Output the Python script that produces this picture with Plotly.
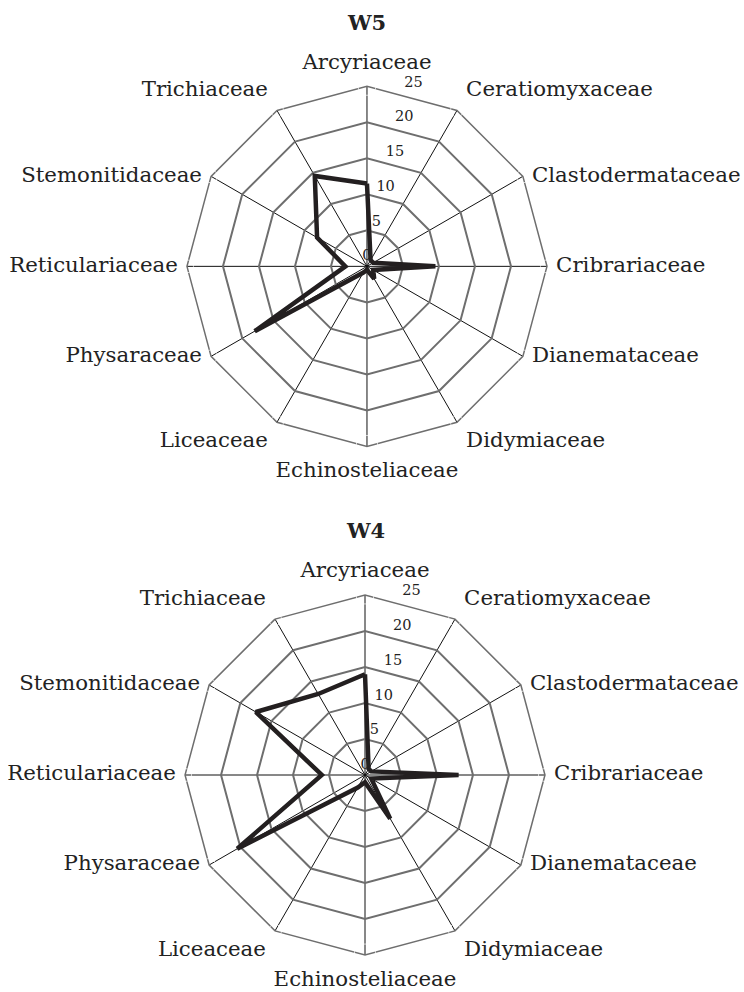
import plotly.graph_objects as go

categories = ["Arcyriaceae", "Ceratiomyxaceae", "Clastodermataceae", "Cribrariaceae",
              "Dianemataceae", "Didymiaceae", "Echinosteliaceae", "Liceaceae",
              "Physaraceae", "Reticulariaceae", "Stemonitidaceae", "Trichiaceae"]
w5_values = [11.5, 1, 1, 9.5, 1, 2, 0.5, 1, 18, 3, 8, 14.5]
w4_values = [14, 1, 1, 13, 1, 7, 1, 2, 20.5, 6, 17.5, 13]
radial_ticks = [0, 5, 10, 15, 20, 25]
titles = ["W5", "W4"]

FONT = "DejaVu Serif"
LINE = "#231f20"
GRID = "#6e6e6e"
CLEAR = "rgba(0,0,0,0)"
LABEL_ANGLE = 15   # direction (deg, clockwise from top) along which scale labels are written
RMAX = 25

DOMAINS = [([0.2513, 0.7352], [0.5500, 0.9130]),
           ([0.2487, 0.7325], [0.0373, 0.4002])]

step = 360 / len(categories)
cat_angles = [i * step for i in range(len(categories))]

def text_pos(a):
    if a == 0:
        return "top center"
    if a == 180:
        return "bottom center"
    if a < 45:
        return "top right"
    if a > 315:
        return "top left"
    if 135 < a < 180:
        return "bottom right"
    if 180 < a < 225:
        return "bottom left"
    return "middle right" if a < 180 else "middle left"

def pad_size(a):
    # invisible anchor size -> label distance from the outer polygon
    if a == 0:
        return 18
    if a == 180:
        return 22
    return 13

cat_positions = [text_pos(a) for a in cat_angles]
cat_pads = [pad_size(a) for a in cat_angles]

fig = go.Figure()
for i, vals in enumerate([w5_values, w4_values]):
    sp = "polar" if i == 0 else "polar2"
    sp_lab = "polar3" if i == 0 else "polar4"
    fig.add_trace(go.Scatterpolar(
        r=vals + vals[:1], theta=categories + categories[:1],
        mode="lines", line=dict(color=LINE, width=4.5),
        subplot=sp, showlegend=False, hoverinfo="skip"))
    fig.add_trace(go.Scatterpolar(
        r=radial_ticks, theta=[LABEL_ANGLE] * len(radial_ticks),
        mode="markers+text", marker=dict(size=2, color=CLEAR),
        text=[str(t) for t in radial_ticks], textposition="top center",
        textfont=dict(family=FONT, size=14.5, color="#222"),
        subplot=sp_lab, showlegend=False, hoverinfo="skip", cliponaxis=False))
    fig.add_trace(go.Scatterpolar(
        r=[RMAX] * len(categories), theta=cat_angles,
        mode="markers+text", marker=dict(size=cat_pads, color=CLEAR),
        text=categories, textposition=cat_positions,
        textfont=dict(family=FONT, size=21.3, color="#222"),
        subplot=sp_lab, showlegend=False, hoverinfo="skip", cliponaxis=False))

def polar_layout(xd, yd):
    return dict(
        domain=dict(x=xd, y=yd),
        gridshape="linear",
        bgcolor="white",
        radialaxis=dict(range=[0, RMAX], tickvals=radial_ticks, showline=False,
                        showticklabels=False, angle=90,
                        gridcolor=GRID, gridwidth=1.5, ticks=""),
        angularaxis=dict(type="category", direction="clockwise", rotation=90,
                         categoryorder="array", categoryarray=categories,
                         showline=True, linecolor=GRID, linewidth=1.5,
                         gridcolor="#111", gridwidth=1,
                         ticks="", showticklabels=False),
    )

def label_layout(xd, yd):
    return dict(
        domain=dict(x=xd, y=yd),
        bgcolor=CLEAR,
        radialaxis=dict(range=[0, RMAX], visible=False),
        angularaxis=dict(direction="clockwise", rotation=90, visible=False),
    )

fig.update_layout(
    width=744, height=992, paper_bgcolor="white", plot_bgcolor="white",
    margin=dict(l=0, r=0, t=0, b=0),
    polar=polar_layout(*DOMAINS[0]),
    polar2=polar_layout(*DOMAINS[1]),
    polar3=label_layout(*DOMAINS[0]),
    polar4=label_layout(*DOMAINS[1]),
    annotations=[
        dict(text="<b>" + titles[0] + "</b>", x=0.493, y=1 - 22 / 992, xref="paper", yref="paper",
             yanchor="middle", showarrow=False, font=dict(family=FONT, size=21, color="#222")),
        dict(text="<b>" + titles[1] + "</b>", x=0.491, y=1 - 530 / 992, xref="paper", yref="paper",
             yanchor="middle", showarrow=False, font=dict(family=FONT, size=21, color="#222")),
    ],
)
fig.write_html("out.html", config={"displayModeBar": False},
               post_script="document.body.style.margin='0';")
